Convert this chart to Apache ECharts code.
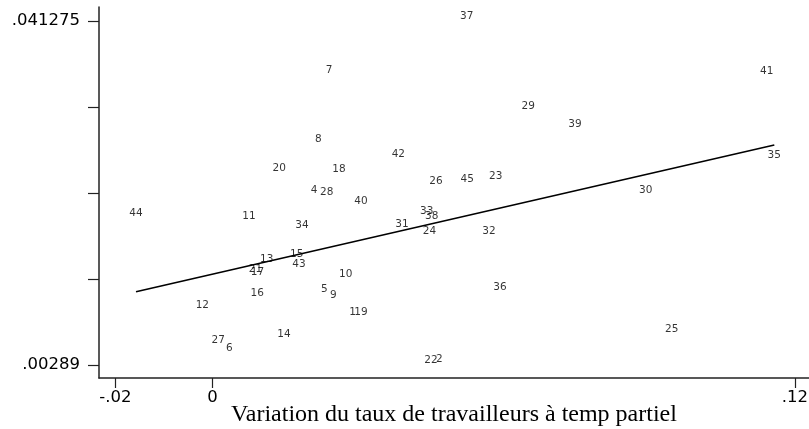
<!DOCTYPE html>
<html>
<head>
<meta charset="utf-8">
<script src="https://cdn.jsdelivr.net/npm/echarts@6/dist/echarts.min.js"></script>
<style>
  html, body { margin: 0; padding: 0; background: #fff; }
  #chart { width: 809px; height: 429px; }
</style>
</head>
<body>
<div id="chart"></div>
<script>
// Observation numbers (used as the marker labels)
const ids = [37, 7, 41, 29, 39, 8, 42, 35, 20, 18, 23, 45, 26, 30, 4, 28, 40, 44, 11, 33,
             38, 34, 31, 24, 32, 13, 15, 43, 21, 17, 10, 36, 5, 9, 16, 12, 1, 19, 14, 27,
             6, 25, 22, 2];

// Variation du taux de travailleurs à temps partiel
const xValues = [0.05237, 0.02400, 0.11417, 0.06506, 0.07468, 0.02180, 0.03828, 0.11574, 0.01376, 0.02606,
                 0.05834, 0.05249, 0.04604, 0.08925, 0.02091, 0.02353, 0.03059, -0.01576, 0.00752, 0.04413,
                 0.04516, 0.01844, 0.03904, 0.04471, 0.05696, 0.01117, 0.01735, 0.01782, 0.00886, 0.00927,
                 0.02744, 0.05923, 0.02303, 0.02489, 0.00923, -0.00210, 0.02884, 0.03059, 0.01473, 0.00119,
                 0.00346, 0.09460, 0.04501, 0.04672];

// Dependent variable
const yValues = [0.041275, 0.03525, 0.03514, 0.03123, 0.02919, 0.02751, 0.02587, 0.02576, 0.02431, 0.02420,
                 0.02342, 0.02308, 0.02286, 0.02186, 0.02186, 0.02156, 0.02055, 0.01929, 0.01896, 0.01944,
                 0.01896, 0.01795, 0.01801, 0.01725, 0.01728, 0.01416, 0.01472, 0.01360, 0.01299, 0.01265,
                 0.01248, 0.01100, 0.01081, 0.01014, 0.01033, 0.00903, 0.00819, 0.00819, 0.00579, 0.00512,
                 0.00419, 0.00631, 0.00289, 0.00297];

// Fitted regression line (end points)
const fitX = [-0.01576, 0.11574];
const fitY = [0.011069, 0.027438];

// Axis ticks
const xTicks = [-0.02, 0, 0.12];
const xTickLabels = ['-.02', '0', '.12'];
const yTicks = [0.00289, 0.0124862, 0.0220825, 0.0316787, 0.041275];
const yLabelTicks = [0.00289, 0.041275];
const yTickLabels = ['.00289', '.041275'];

const points = ids.map((id, i) => [xValues[i], yValues[i], id]);
const fitLine = fitX.map((x, i) => [x, fitY[i]]);

const axisColor = '#222';
const tickFont = { fontFamily: 'DejaVu Sans', fontSize: 16.5, color: '#000' };

const chart = echarts.init(document.getElementById('chart'), null, { renderer: 'canvas' });
chart.setOption({
  animation: false,
  backgroundColor: '#fff',
  grid: { left: 99, right: 0, top: 7, bottom: 51, containLabel: false, outerBoundsMode: 'none' },
  xAxis: {
    type: 'value',
    min: -0.023383,
    max: 0.12289,
    splitLine: { show: false },
    axisLine: { show: true, onZero: false, lineStyle: { color: axisColor, width: 1.5 } },
    axisTick: { show: true, length: 10, customValues: xTicks, lineStyle: { color: axisColor, width: 1.2 } },
    axisLabel: Object.assign({
      customValues: xTicks,
      margin: 11,
      formatter: v => {
        const k = xTicks.findIndex(t => Math.abs(t - v) < 1e-9);
        return k >= 0 ? xTickLabels[k] : '';
      }
    }, tickFont),
    name: 'Variation du taux de travailleurs à temp partiel',
    nameLocation: 'middle',
    nameGap: 25,
    nameMoveOverlap: false,
    nameTextStyle: { fontFamily: 'Liberation Serif', fontSize: 24, color: '#000' }
  },
  yAxis: {
    type: 'value',
    min: 0.0014395,
    max: 0.042837,
    splitLine: { show: false },
    axisLine: { show: true, onZero: false, lineStyle: { color: axisColor, width: 1.5 } },
    axisTick: { show: true, length: 11, customValues: yTicks, lineStyle: { color: axisColor, width: 1.2 } },
    axisLabel: Object.assign({
      customValues: yLabelTicks,
      margin: 19,
      formatter: v => {
        const k = yLabelTicks.findIndex(t => Math.abs(t - v) < 1e-9);
        return k >= 0 ? yTickLabels[k] : '';
      }
    }, tickFont)
  },
  series: [
    {
      type: 'scatter',
      data: points,
      symbol: 'circle',
      symbolSize: 1,
      itemStyle: { color: 'rgba(0,0,0,0)' },
      label: {
        show: true,
        // labels sit centred just above each observation
        position: ['50%', -4.5],
        align: 'center',
        verticalAlign: 'middle',
        formatter: p => String(p.value[2]),
        fontFamily: 'DejaVu Sans',
        fontSize: 10.5,
        color: '#000'
      },
      z: 3
    },
    {
      type: 'line',
      data: fitLine,
      showSymbol: false,
      symbol: 'none',
      lineStyle: { color: '#000', width: 1.6 },
      z: 2
    }
  ]
});
</script>
</body>
</html>
